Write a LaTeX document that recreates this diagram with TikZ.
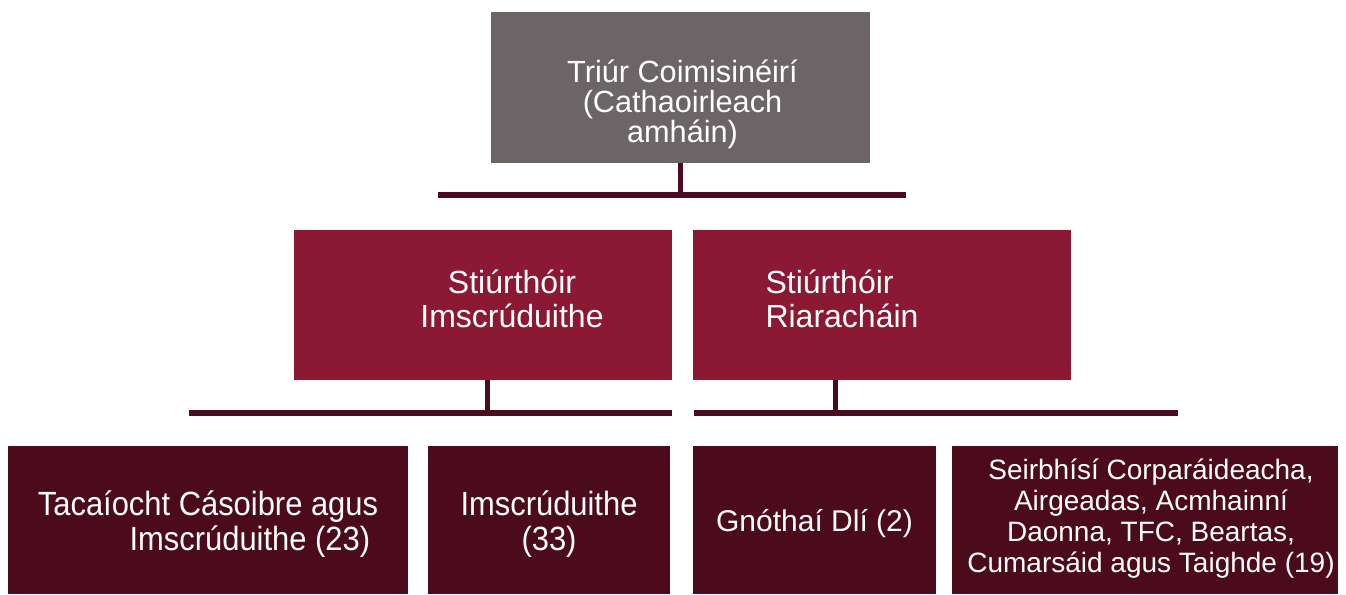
\documentclass[tikz,border=0pt]{standalone}
\usepackage{fontspec}
\setmainfont{Liberation Sans}
\newfontfamily\narrowfont[FakeStretch=0.92]{Liberation Sans}
\usetikzlibrary{positioning}
\definecolor{chairgrey}{RGB}{108,101,104}
\definecolor{dirred}{RGB}{140,25,51}
\definecolor{unitred}{RGB}{75,11,29}

\begin{document}
\begin{tikzpicture}[x = 0.75pt, y = -0.75pt,
    chair/.style = {shape = rectangle, fill = chairgrey, minimum width = 284.25pt, minimum height = 113.25pt, inner sep = 0pt, outer sep = 0pt},
    director/.style = {shape = rectangle, fill = dirred, minimum width = 283.5pt, minimum height = 112.5pt, inner sep = 0pt, outer sep = 0pt},
    unit/.style = {shape = rectangle, fill = unitred, minimum height = 111pt, inner sep = 0pt, outer sep = 0pt},
    boxtext/.style = {text = white, align = center, inner sep = 0pt},
    link/.style = {draw = unitred, line width = 3.75pt},
    bar/.style = {draw = unitred, line width = 4.5pt},
    ]
    \useasboundingbox (0,0) rectangle (1346,594);
    \node[chair] (T) [label = {[boxtext, xshift = 1.5pt, yshift = -12.4pt, font = \fontsize{23}{22.5}\selectfont]center:Triúr Coimisinéirí\\(Cathaoirleach\\amháin)}] at (680.5,87.5) {};
    \node[director] (DI) [label = {[boxtext, xshift = 21.75pt, yshift = 4.5pt, font = \fontsize{24}{25.5}\selectfont]center:Stiúrthóir\\Imscrúduithe}] at (483,305) {};
    \node[director] (DR) [label = {[boxtext, align = left, xshift = -30pt, yshift = 4.5pt, font = \fontsize{24}{25.5}\selectfont]center:Stiúrthóir\\Riaracháin}] at (882,305) {};
    \node[unit, minimum width = 300pt] (U1) [label = {[boxtext, align = right, yshift = -3pt, font = \narrowfont\fontsize{25.2}{26.25}\selectfont]center:Tacaíocht Cásoibre agus\\Imscrúduithe (23)\hspace*{6pt}}] at (208,520) {};
    \node[unit, minimum width = 181.5pt] (U2) [label = {[boxtext, yshift = -3pt, font = \narrowfont\fontsize{25.2}{26.25}\selectfont]center:Imscrúduithe\\(33)}] at (549,520) {};
    \node[unit, minimum width = 182.25pt] (U3) [label = {[boxtext, yshift = -2.5pt, font = \fontsize{22.5}{24}\selectfont]center:Gnóthaí Dlí (2)}] at (814.5,520) {};
    \node[unit, minimum width = 289.5pt] (U4) [label = {[boxtext, xshift = 4.5pt, yshift = 1.1pt, font = \fontsize{21}{23.25}\selectfont]center:Seirbhísí Corparáideacha,\\Airgeadas, Acmhainní\\Daonna, TFC, Beartas,\\Cumarsáid agus Taighde (19)}] at (1145,520) {};

    % tie bars
    \coordinate (barT) at (680.5,195);
    \coordinate (barI) at (487,413);
    \coordinate (barR) at (835,413);
    \draw[bar] (438,195) coordinate (barTl) -- (906,195) coordinate (barTr);
    \draw[bar] (189,413) coordinate (barIl) -- (672,413) coordinate (barIr);
    \draw[bar] (694,413) coordinate (barRl) -- (1178,413) coordinate (barRr);

    \draw[link] (T.south) -- (barT);
    \draw[link] (barI |- DI.south) -- (barI);
    \draw[link] (barR |- DR.south) -- (barR);
\end{tikzpicture}
\end{document}
